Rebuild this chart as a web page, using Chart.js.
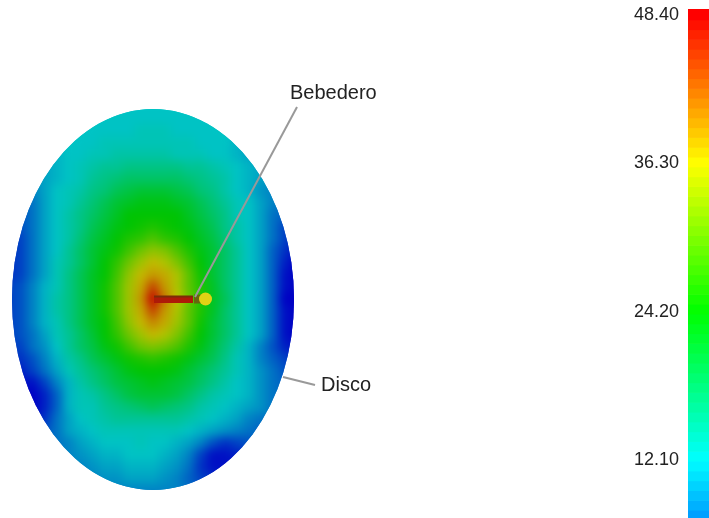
<!DOCTYPE html>
<html>
<head>
<meta charset="utf-8">
<title>Disco</title>
<script src="https://cdn.jsdelivr.net/npm/chart.js@4/dist/chart.umd.min.js"></script>
<style>
    html, body { margin: 0; padding: 0; background: #fff; }
    #stage { position: relative; width: 709px; height: 518px; overflow: hidden; }
    #disc-chart { position: absolute; left: 0; top: 0; }
    #scale-chart { position: absolute; left: 620px; top: 0; }
</style>
</head>
<body>
<div id="stage">
    <canvas id="disc-chart" width="709" height="518"></canvas>
    <canvas id="scale-chart" width="89" height="518"></canvas>
</div>
<script>
const _ = null;
const fieldX = [9, 21, 33, 45, 57, 69, 81, 93, 105, 117, 129, 141, 153, 165, 177, 189, 201, 213, 225, 237, 249, 261, 273, 285, 297];
const fieldY = [107, 119, 131, 143, 155, 167, 179, 191, 203, 215, 227, 239, 251, 263, 275, 287, 299, 311, 323, 335, 347, 359, 371, 383, 395, 407, 419, 431, 443, 455, 467, 479, 491];
const fieldValues = [
    [_, _, _, _, _, _, _, _, 12, 12, 12, 12, 12, 12, 12, 12, 12, _, _, _, _, _, _, _, _],
    [_, _, _, _, _, _, _, 12, 12, 12, 12, 12, 12, 12, 12, 12, 12, 12, _, _, _, _, _, _, _],
    [_, _, _, _, _, _, 12, 12, 12, 12, 12, 13, 13, 13, 12, 12, 12, 12, 12, _, _, _, _, _, _],
    [_, _, _, _, _, 12, 12, 12, 13, 13, 13, 13, 13, 13, 13, 13, 12, 12, 12, 11, _, _, _, _, _],
    [_, _, _, _, 11, 12, 12, 13, 13, 14, 14, 14, 14, 14, 13, 13, 13, 12, 12, 11, 10, _, _, _, _],
    [_, _, _, 10, 11, 12, 13, 14, 15, 15, 16, 16, 16, 16, 16, 15, 15, 14, 13, 12, 11, 10, _, _, _],
    [_, _, 9, 10, 11, 12, 13, 15, 16, 17, 18, 18, 18, 18, 18, 17, 16, 15, 14, 12, 11, 10, 9, _, _],
    [_, _, 8, 10, 12, 13, 14, 16, 17, 19, 20, 21, 21, 21, 20, 19, 17, 16, 14, 12, 11, 9, 8, _, _],
    [_, 6, 7, 10, 12, 13, 15, 17, 19, 21, 22, 23, 23, 23, 22, 21, 19, 17, 15, 13, 12, 10, 8, 7, _],
    [_, 5, 7, 10, 12, 14, 16, 18, 20, 22, 24, 24, 24, 24, 24, 22, 20, 18, 16, 13, 12, 10, 7, 6, _],
    [4, 5, 7, 10, 12, 14, 16, 19, 21, 23, 24, 25, 26, 25, 24, 23, 21, 19, 16, 14, 12, 10, 7, 4, 3],
    [4, 4, 7, 10, 12, 14, 17, 20, 22, 24, 26, 27, 29, 27, 26, 24, 22, 20, 17, 14, 12, 10, 7, 4, 2],
    [3, 4, 7, 10, 12, 15, 18, 21, 23, 25, 28, 31, 33, 32, 29, 26, 23, 21, 18, 15, 12, 10, 6, 3, 1],
    [3, 4, 7, 10, 13, 15, 18, 21, 24, 27, 31, 34, 37, 35, 32, 28, 24, 21, 18, 15, 12, 10, 6, 2, 0],
    [3, 4, 7, 10, 13, 16, 19, 22, 24, 28, 33, 37, 39, 38, 35, 30, 25, 21, 18, 15, 12, 10, 6, 1, 0],
    [4, 5, 8, 11, 13, 16, 19, 22, 25, 29, 34, 38, 44, 39, 35, 30, 26, 22, 18, 15, 12, 10, 6, 1, 0],
    [4, 5, 8, 11, 14, 16, 19, 22, 25, 29, 34, 39, 48, 41, 36, 31, 26, 22, 19, 15, 12, 10, 6, 0, 0],
    [4, 5, 8, 11, 14, 16, 19, 22, 25, 29, 34, 38, 44, 39, 35, 30, 26, 22, 18, 15, 12, 10, 6, 1, 0],
    [4, 5, 8, 11, 13, 16, 19, 22, 24, 28, 33, 37, 40, 38, 34, 30, 25, 21, 18, 15, 12, 10, 6, 1, 0],
    [4, 5, 7, 10, 13, 15, 18, 21, 24, 27, 31, 34, 37, 35, 32, 28, 24, 21, 18, 15, 12, 10, 6, 1, 0],
    [4, 4, 7, 9, 12, 15, 18, 20, 23, 25, 28, 31, 32, 31, 29, 26, 23, 20, 17, 14, 11, 8, 5, 2, 1],
    [_, 3, 5, 8, 11, 14, 16, 19, 21, 23, 25, 26, 27, 26, 25, 23, 21, 19, 16, 13, 11, 8, 6, 4, 3],
    [_, 2, 4, 7, 10, 13, 15, 17, 19, 21, 23, 24, 24, 24, 23, 21, 19, 17, 15, 13, 11, 9, 7, 5, _],
    [_, 1, 1, 4, 8, 11, 14, 16, 18, 20, 21, 22, 23, 22, 21, 20, 18, 16, 14, 12, 11, 9, 7, 6, _],
    [_, _, 0, 2, 6, 11, 13, 14, 16, 18, 20, 21, 21, 21, 20, 18, 16, 14, 13, 12, 11, 9, 7, _, _],
    [_, _, 0, 2, 6, 11, 13, 13, 15, 16, 17, 18, 19, 18, 17, 16, 14, 13, 12, 11, 10, 9, 7, _, _],
    [_, _, 1, 3, 7, 10, 12, 13, 14, 15, 15, 15, 15, 15, 15, 14, 13, 12, 11, 10, 8, 7, _, _, _],
    [_, _, _, 5, 7, 10, 11, 12, 13, 13, 13, 13, 13, 13, 13, 12, 11, 10, 9, 8, 7, 6, _, _, _],
    [_, _, _, _, 7, 8, 10, 11, 12, 12, 12, 13, 12, 12, 11, 10, 8, 5, 3, 4, 5, _, _, _, _],
    [_, _, _, _, _, 8, 9, 10, 11, 11, 12, 12, 12, 11, 10, 8, 4, 1, 1, 2, _, _, _, _, _],
    [_, _, _, _, _, _, 8, 9, 10, 10, 11, 11, 11, 10, 9, 7, 3, 1, 1, _, _, _, _, _, _],
    [_, _, _, _, _, _, _, 8, 9, 9, 10, 10, 10, 9, 8, 6, 4, 3, _, _, _, _, _, _, _],
    [_, _, _, _, _, _, _, _, 8, 8, 8, 8, 8, 8, 8, 7, 6, _, _, _, _, _, _, _, _]
];
const scaleTicks = [48.4, 36.3, 24.2, 12.1];
const scaleBands = [48.9, 48, 47.2, 46.4, 45.6, 44.8, 44, 43.2, 42.4, 41.6, 40.8, 40, 39.2, 38.4, 37.6, 36.8, 36, 35.2, 34.4, 33.6, 32.8, 32, 31.2, 30.4, 29.6, 28.8, 28, 27.2, 26.4, 25.6, 24.8, 24, 23.2, 22.4, 21.6, 20.8, 20, 19.2, 18.4, 17.6, 16.8, 16, 15.2, 14.4, 13.6, 12.8, 12, 11.2, 10.4, 9.6, 8.8, 8, 7.2];
const sprueLine = [{ x: 154, y: 299.5 }, { x: 193, y: 299.5 }];
const sprueEdge = [{ x: 154, y: 296.5 }, { x: 193, y: 296.5 }];
const sprueTip = [{ x: 194, y: 299 }, { x: 203, y: 299 }];
const gatePoint = [{ x: 205.5, y: 299 }];
const sprueLeader = [{ x: 297, y: 107 }, { x: 195, y: 297 }];
const discLeader = [{ x: 283, y: 377 }, { x: 315, y: 385 }];
const calloutText = ['Bebedero', 'Disco'];
const calloutX = [290, 321];
const calloutY = [93, 385];

// rainbow map of the legend; the disc is the same map under the model's shading
function rampColour(value, shade) {
    let r = 0, g = 255, b = 0;
    if (value >= 36.3) { r = 255; g = 255 * (48.4 - value) / 12.1; }
    else if (value >= 24.2) { r = 255 * (value - 24.2) / 12.1; }
    else if (value >= 12.1) { b = 255 * (24.2 - value) / 12.1; }
    else { b = 255; g = 255 * value / 12.1; }
    g = Math.max(0, g);
    return 'rgb(' + Math.round(r * shade) + ',' + Math.round(g * shade) + ',' + Math.round(b * shade) + ')';
}

const cells = [];
fieldValues.forEach(function (row, j) {
    row.forEach(function (value, i) {
        if (value !== null) cells.push({ x: fieldX[i], y: fieldY[j], v: value });
    });
});

// the cells are smoothed as one layer and cut to the outline of the disc
const discClip = {
    id: 'discClip',
    afterDatasetDraw(chart, args) {
        if (args.index !== 0) return;
        const sx = chart.scales.x, sy = chart.scales.y;
        const ctx = chart.ctx;
        const layer = document.createElement('canvas');
        layer.width = chart.canvas.width;
        layer.height = chart.canvas.height;
        layer.getContext('2d').drawImage(chart.canvas, 0, 0);
        ctx.save();
        ctx.setTransform(1, 0, 0, 1, 0, 0);
        ctx.clearRect(0, 0, layer.width, layer.height);
        ctx.beginPath();
        ctx.ellipse(sx.getPixelForValue(153), sy.getPixelForValue(299.5), sx.getPixelForValue(294) - sx.getPixelForValue(153), sy.getPixelForValue(490) - sy.getPixelForValue(299.5), 0, 0, Math.PI * 2);
        ctx.clip();
        ctx.drawImage(layer, 0, 0);
        ctx.filter = 'blur(5px)';
        ctx.drawImage(layer, 0, 0);
        ctx.restore();
    },
    afterDraw(chart) {
        const ctx = chart.ctx;
        ctx.save();
        ctx.fillStyle = '#222';
        ctx.font = '20px "Liberation Sans"';
        ctx.textBaseline = 'middle';
        calloutText.forEach(function (text, i) {
            ctx.fillText(text, chart.scales.x.getPixelForValue(calloutX[i]), chart.scales.y.getPixelForValue(calloutY[i]));
        });
        ctx.restore();
    }
};

new Chart(document.getElementById('disc-chart'), {
    type: 'scatter',
    data: {
        datasets: [
            {
                data: cells,
                order: 10,
                pointStyle: 'rect',
                pointBorderWidth: 0,
                pointRadius: function (ctx) {
                    const sx = ctx.chart.scales.x;
                    return (sx.getPixelForValue(12) - sx.getPixelForValue(0)) / Math.SQRT2 + 0.5;
                },
                pointBackgroundColor: function (ctx) { return rampColour(ctx.raw.v, 0.77); }
            },
            { data: sprueEdge, order: 4, showLine: true, borderColor: '#7c2c06', borderWidth: 2, pointRadius: 0 },
            { data: sprueLine, order: 5, showLine: true, borderColor: '#ae1a08', borderWidth: 7, pointRadius: 0 },
            { data: sprueTip, order: 5, showLine: true, borderColor: '#66660f', borderWidth: 9, pointRadius: 0 },
            { data: gatePoint, order: 4, pointRadius: 6.5, pointBorderWidth: 0, pointBackgroundColor: '#e2d214' },
            { data: sprueLeader, order: 1, showLine: true, borderColor: '#999', borderWidth: 2, pointRadius: 0 },
            { data: discLeader, order: 1, showLine: true, borderColor: '#999', borderWidth: 2, pointRadius: 0 }
        ]
    },
    options: {
        responsive: false,
        animation: false,
        events: [],
        layout: { padding: 0, autoPadding: false },
        plugins: { legend: { display: false }, tooltip: { enabled: false } },
        scales: {
            x: { type: 'linear', display: false, min: 0, max: 709 },
            y: { type: 'linear', display: false, min: 0, max: 518, reverse: true }
        }
    },
    plugins: [discClip]
});

const bandSets = [];
for (let i = 0; i < scaleBands.length - 1; i++) {
    const high = scaleBands[i], low = scaleBands[i + 1];
    bandSets.push({
        data: [[low, high]],
        backgroundColor: rampColour((low + high) / 2, 1),
        barPercentage: 1,
        categoryPercentage: 1,
        borderWidth: 0
    });
}

new Chart(document.getElementById('scale-chart'), {
    type: 'bar',
    data: { labels: [''], datasets: bandSets },
    options: {
        responsive: false,
        animation: false,
        events: [],
        layout: { padding: { top: 9 }, autoPadding: false },
        plugins: { legend: { display: false }, tooltip: { enabled: false } },
        scales: {
            x: { display: false, stacked: true },
            y: {
                min: 7.37,
                max: 48.89,
                grid: { display: false, drawTicks: false },
                border: { display: false },
                afterBuildTicks: function (axis) {
                    axis.ticks = scaleTicks.map(function (v) { return { value: v }; });
                },
                afterFit: function (axis) {
                    axis.width = 68;
                    axis.paddingTop = 0;
                    axis.paddingBottom = 0;
                },
                ticks: {
                    autoSkip: false,
                    padding: 9,
                    color: '#222',
                    font: { family: '"Liberation Sans"', size: 18 },
                    callback: function (value) { return value.toFixed(2); }
                }
            }
        }
    }
});
</script>
</body>
</html>
